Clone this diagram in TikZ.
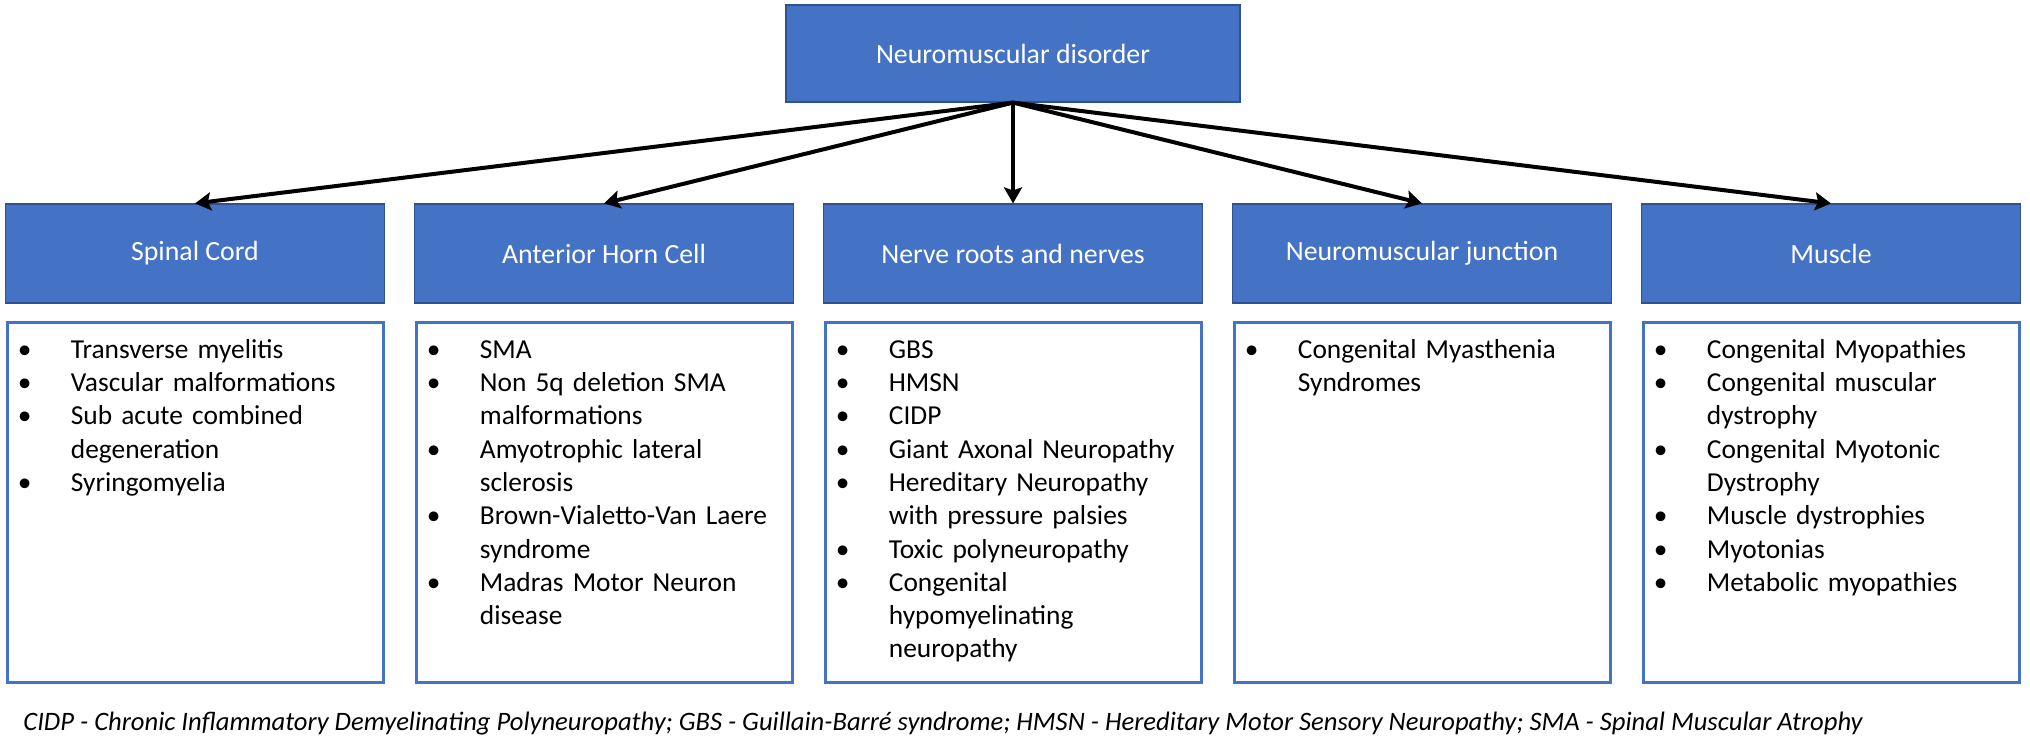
\documentclass[tikz,border=0pt]{standalone}
\usepackage{fontspec}
\setmainfont{Carlito}
\usepackage{xcolor}
\usepackage{enumitem}
\usepackage{tikz}
\usetikzlibrary{arrows.meta}

\definecolor{boxblue}{HTML}{4472C4}
\definecolor{edgeblue}{HTML}{2F528F}

\tikzset{
  head/.style={draw=edgeblue, line width=0.6pt, fill=boxblue, text=white,
    minimum width=189.5pt, minimum height=49.5pt, font=\fontsize{13.9}{16.7}\selectfont},
  listbox/.style={draw=boxblue, line width=1.5pt, fill=white, minimum width=188pt, minimum height=180pt},
  items/.style={anchor=north west, inner sep=0pt, text width=170pt, align=left,
    font=\fontsize{13.7}{16.65}\selectfont},
  link/.style={-{Stealth[length=8pt,width=9pt,inset=1.5pt]}, line width=2pt}
}

\newcommand{\bul}[1]{\begin{itemize}[label=\hspace*{-4pt}\textbullet,leftmargin=22.5pt,labelwidth=22.5pt,
  labelsep=0pt,align=left,itemsep=0pt,parsep=0pt,topsep=0pt,partopsep=0pt]#1\end{itemize}}

\begin{document}
\begin{tikzpicture}[x=0.5pt, y=-0.5pt]
 \useasboundingbox (0,0) rectangle (2030,746);
  \node[head, minimum width=227pt, minimum height=48.5pt] (nmd) at (1013,53.5) {Neuromuscular disorder};
  \foreach \x/\name/\txt in {195/sc/Spinal Cord, 604/ahc/Anterior Horn Cell, 1013/nrn/Nerve roots and nerves,
    1422/nmj/Neuromuscular junction, 1831/mus/Muscle} {
   \node[head] (\name) at (\x,253.5) {\txt};
   \node[listbox] (\name-list) at (\x,502) {};
   \draw[link] (nmd.south) -- (\name.north);
  }
  % bullet lists
  \node[items] (sc-items) at ([xshift=10pt,yshift=-2pt]sc-list.north west) {\bul{
    \item Transverse myelitis
    \item Vascular malformations
    \item Sub acute combined\\degeneration
    \item Syringomyelia}};
  \node[items] (ahc-items) at ([xshift=10pt,yshift=-2pt]ahc-list.north west) {\bul{
    \item SMA
    \item Non 5q deletion SMA\\malformations
    \item Amyotrophic lateral\\sclerosis
    \item Brown-Vialetto-Van Laere\\syndrome
    \item Madras Motor Neuron\\disease}};
  \node[items] (nrn-items) at ([xshift=10pt,yshift=-2pt]nrn-list.north west) {\bul{
    \item GBS
    \item HMSN
    \item CIDP
    \item Giant Axonal Neuropathy
    \item Hereditary Neuropathy\\with pressure palsies
    \item Toxic polyneuropathy
    \item Congenital\\hypomyelinating\\neuropathy}};
  \node[items] (nmj-items) at ([xshift=10pt,yshift=-2pt]nmj-list.north west) {\bul{
    \item Congenital Myasthenia\\Syndromes}};
  \node[items] (mus-items) at ([xshift=10pt,yshift=-2pt]mus-list.north west) {\bul{
    \item Congenital Myopathies
    \item Congenital muscular\\dystrophy
    \item Congenital Myotonic\\Dystrophy
    \item Muscle dystrophies
    \item Myotonias
    \item Metabolic myopathies}};
  \node[anchor=west, inner sep=0pt, font=\itshape\fontsize{13.3}{16}\selectfont] (note) at (23,724)
   {CIDP - Chronic Inflammatory Demyelinating Polyneuropathy; GBS - Guillain-Barré syndrome; HMSN - Hereditary Motor Sensory Neuropathy; SMA - Spinal Muscular Atrophy};
\end{tikzpicture}
\end{document}
